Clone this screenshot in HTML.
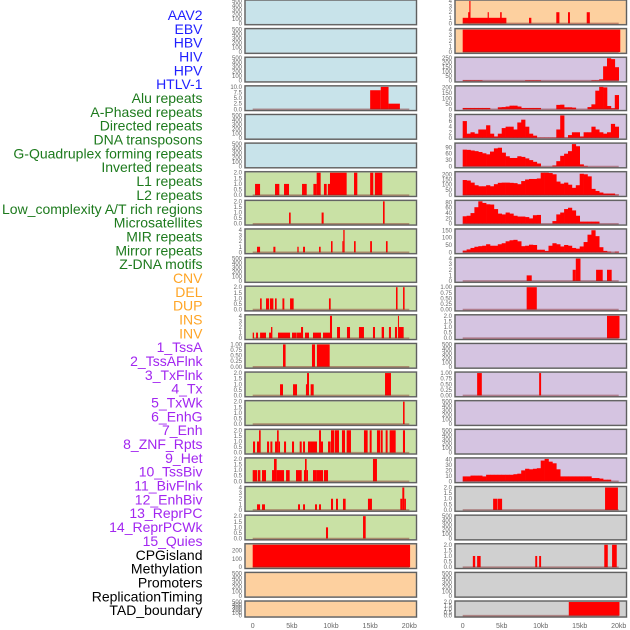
<!DOCTYPE html>
<html><head><meta charset="utf-8"><style>
html,body{margin:0;padding:0;background:#fff;width:630px;height:630px;overflow:hidden}
svg{display:block}
</style></head><body>
<svg id="chart" width="630" height="630" viewBox="0 0 630 630" xmlns="http://www.w3.org/2000/svg" font-family="Liberation Sans, sans-serif"></svg>
<script>
// ---- data ----
const labelNames = ["AAV2","EBV","HBV","HIV","HPV","HTLV-1","Alu repeats","A-Phased repeats","Directed repeats","DNA transposons","G-Quadruplex forming repeats","Inverted repeats","L1 repeats","L2 repeats","Low_complexity A/T rich regions","Microsatellites","MIR repeats","Mirror repeats","Z-DNA motifs","CNV","DEL","DUP","INS","INV","1_TssA","2_TssAFlnk","3_TxFlnk","4_Tx","5_TxWk","6_EnhG","7_Enh","8_ZNF_Rpts","9_Het","10_TssBiv","11_BivFlnk","12_EnhBiv","13_ReprPC","14_ReprPCWk","15_Quies","CPGisland","Methylation","Promoters","ReplicationTiming","TAD_boundary"];
const labelGroups = [6,13,5,15,5];
const groupColors = ["#1f1fff","#1d7a1d","#ffa526","#a226f0","#000000"];
const xTicks = [0,5,10,15,20];
const xTickLabels = ["0","5kb","10kb","15kb","20kb"];

const leftBg = ["b","b","b","b","b","b","g","g","g","g","g","g","g","g","g","g","g","g","g","p","p","p"];
const rightBg = ["p","p","v","v","v","v","v","v","v","v","v","v","v","v","v","v","v","r","r","r","r","r"];

const EMPTY = ["0","100","200","300","400","500"];
const T1 = ["0.00","0.25","0.50","0.75","1.00"];
const T2 = ["0.0","0.5","1.0","1.5","2.0"];
const T4 = ["0","1","2","3","4"];
const leftTicks = [EMPTY,EMPTY,EMPTY,["0.0","2.5","5.0","7.5","10.0"],EMPTY,EMPTY,T2,T2,T4,EMPTY,T2,T4,T1,T2,T2,T2,T2,T4,T2,["0","100","200"],EMPTY,EMPTY];
const leftMax = [500,500,500,10,500,500,2,2,4,500,2,4,1,2,2,2,2,4,2,270,500,500];
const rightTicks = [T4,T4,["0","50","100","150","200","250"],["0","50","100","150","200"],["0","2","4","6","8"],["0","30","60","90"],["0","50","100","150","200"],["0","20","40","60","80"],["0","50","100","150"],T4,T1,T2,EMPTY,T1,EMPTY,EMPTY,["0","10","20","30","40"],T2,EMPTY,T2,EMPTY,T2];
const rightMax = [4,4,250,205,8,105,215,84,152,4,1,2,500,1,500,500,41,2,500,2,500,2];

// sparse segments [startKb, endKb, value]
const leftSegments = [
 null,null,null,
 [[15,16.35,8.5],[16.35,17.35,10],[17.35,18.8,2.5]],
 null,null,
 [[0.3,0.94,1],[2.85,3.4,1],[4.0,4.64,1],[6.3,6.9,1],[7.75,8.17,1],[8.17,8.68,2],[9.1,9.45,1],[9.6,9.87,1],[9.87,12.0,2],[12.94,13.36,2],[15,15.4,2],[15.6,16.55,2]],
 [[4.64,4.85,1],[8.8,9.06,1],[16.64,16.85,2]],
 [[0.55,0.94,1],[2.64,2.9,1],[5.7,5.87,1],[6.43,6.68,1],[8.47,8.68,1],[10,10.2,2],[11.45,11.57,2],[11.57,11.74,4],[12.94,13.15,2],[15,15.23,2],[17.02,17.23,2]],
 null,
 [[0.94,1.15,1],[1.7,2.09,1],[2.2,2.64,1],[2.85,3.06,1],[3.8,4.04,1],[4.77,5.23,1],[9.74,9.96,1],[18.3,18.5,2],[19.2,19.4,2]],
 [[0,0.17,1],[0.43,0.68,1],[0.94,1.7,1],[2.09,2.34,1],[2.34,2.51,2],[3.23,4.77,1],[5.02,5.62,1],[5.66,6.17,1],[6.17,6.43,2],[6.68,7.19,1],[7.7,8.72,1],[8.98,9.87,1],[9.87,10.13,4],[10.77,11.15,2],[12.04,12.43,2],[13.57,14.21,2],[15.36,15.62,2],[16.47,16.77,2],[17.4,17.66,2],[18.17,18.43,2],[18.68,19.28,2],[18.55,18.68,4]],
 [[3.87,4.2,1],[7.57,7.96,1],[8.2,9.83,1]],
 [[3.49,3.87,1],[5.15,5.66,1],[6.8,7.06,1],[6.94,7.19,2],[7.4,7.79,1],[16.9,17.66,2]],
 [[19.2,19.4,2]],
 [[0.04,0.3,1],[0.55,0.81,1],[0.81,1.02,2],[1.83,2.09,1],[2.26,2.51,1],[2.85,3.11,1],[3.11,3.32,2],[3.32,3.49,1],[4.0,4.26,1],[5.02,5.28,1],[6.0,6.26,1],[6.43,6.68,1],[7.06,7.32,1],[7.32,8.21,1],[8.47,8.72,2],[8.72,8.98,1],[9.62,9.96,1],[10.0,10.43,2],[10.51,11.02,2],[11.4,11.79,2],[12.0,12.55,2],[14.21,14.68,2],[14.94,15.19,2],[15.87,16.26,2],[16.34,16.6,2],[16.98,17.23,2],[17.49,18.26,2],[19.19,19.45,2]],
 [[0,0.55,1],[0.64,0.98,1],[1.19,1.7,1],[2.47,2.72,1],[2.72,3.06,2],[3.06,4.0,1],[4.26,4.72,1],[5.53,6.26,1],[6.55,6.68,1],[6.68,6.89,2],[6.89,7.06,1],[7.7,8.13,1],[8.13,8.98,1],[9.1,9.62,1],[15.36,15.87,2]],
 [[0.55,0.94,1],[1.19,1.57,1],[5.79,6.04,1],[6.43,6.68,1],[7.96,8.21,1],[8.47,8.72,1],[10.0,10.26,2],[10.64,10.89,2],[11.53,11.87,2],[14.72,15.23,2],[18.85,19.11,2],[19.11,19.36,4],[19.36,19.57,2]],
 [[9.36,9.62,1],[14.09,14.43,2]],
 [[0,20.1,270]],
 null,null
];
const rightSegments = [
 [[0,5.6,1],[0.7,0.9,2],[0.85,1.0,4],[3.2,3.35,2],[4.8,5.0,2],[8.5,8.8,1],[12.0,12.4,2],[13.5,13.75,2],[15.9,16.3,2]],
 [[0,20.2,4]],
 null,null,null,null,null,null,null,
 [[8.2,8.85,1],[14.1,14.5,2],[14.5,15.1,4],[17.1,17.95,2],[18.5,19.1,2]],
 [[8.2,9.5,1]],
 [[18.5,20.1,2]],
 null,
 [[1.85,2.45,1],[9.8,10.05,1]],
 null,null,null,
 [[3.9,4.45,1],[4.5,5.05,1],[18.25,19.9,2]],
 null,
 [[1.3,1.6,1],[1.85,2.3,1],[9.3,9.55,1],[9.8,10.05,1],[18.15,18.6,2],[19.15,19.75,2]],
 null,
 [[13.6,20.1,2]]
];
// binned profiles (0.5 kb bins, 40 bins)
const prof3 = [6,6,6,6,6,0,0,0,0,0,0,0,0,0,0,0,6,6,6,6,0,0,0,0,0,0,0,0,0,0,0,0,0,6,6,15,160,250,240,150];
const prof4 = [12,12,12,12,12,12,12,0,0,18,20,25,33,33,25,12,12,12,12,12,0,0,0,0,40,42,18,18,15,0,0,0,20,45,170,205,200,30,10,130];
const prof5 = [6,1.5,2,1.5,3,3,4.5,1.5,0.5,1.5,3.5,4,4,3,5.5,6.5,4,1.5,0.8,0.1,0.1,0.1,0.1,0.1,3,8,0.1,1,2,2,0.5,2,2,4,3,2,1.5,2,5,4];
const prof6 = [79,78,75,72,68,62,57,70,85,88,65,48,40,40,48,45,38,30,22,14,0,0,0,5,25,50,60,72,105,95,10,3,0,0,0,0,0,0,0,0];
const prof7 = [145,140,120,95,85,85,95,85,105,118,120,120,118,115,105,135,150,155,155,160,215,215,212,200,130,110,120,100,70,95,205,200,180,60,40,25,15,15,15,5];
const prof8 = [28,30,40,62,84,78,73,72,55,38,35,42,38,30,27,27,25,20,32,33,0,0,0,10,35,42,55,60,50,30,8,8,8,8,8,0,0,0,0,0];
const prof9 = [12,20,30,38,42,45,55,45,45,55,62,75,82,85,75,42,45,52,50,18,18,10,45,62,55,40,50,45,30,25,40,70,120,150,110,35,10,5,0,5];
const prof17 = [9,9,10.5,10.5,10.5,9,12,12,12,12,12,12,12,13,14,20,23,22,23,24,38,41,36,33,22,9,9,9,9,9,9,9,9,6,6,5,3,3,0,0];
const rightProfiles = [null,null,prof3,prof4,prof5,prof6,prof7,prof8,prof9,null,null,null,null,null,null,null,prof17,null,null,null,null,null];
const binWidthKb = 0.5;

// ---- drawing ----
const NS = "http://www.w3.org/2000/svg";
const svg = document.getElementById("chart");
const bgColors = {b:"#c8e3ea",g:"#c9e1a5",p:"#fdd09f",v:"#d5c4e1",r:"#d0d0d0"};
const ROW_PITCH = 28.62;
function rowTop(i){ return ROW_PITCH*i; }
function rowH(i){ return i===21 ? 16 : 24.7; }
const colX = [245,455], colW = 171.5;
const kb0 = [252.7,462.7], kbScale = [7.83,7.8];
function xPos(col,kb){ return kb0[col] + kb*kbScale[col]; }
function yPos(row,v,max){
  const y0 = rowTop(row)+rowH(row)-1.3, y1 = rowTop(row)+1;
  return y0 - (v/max)*(y0-y1);
}
function mk(tag, attrs){
  const e = document.createElementNS(NS, tag);
  for (const k in attrs) e.setAttribute(k, attrs[k]);
  return e;
}

// labels
let li = 0;
labelGroups.forEach((n,g)=>{
  for (let k=0;k<n;k++){
    const t = mk("text",{x:202.5,y:20+13.84*li,"text-anchor":"end","font-size":"14",fill:groupColors[g]});
    
    
    t.textContent = labelNames[li];
    svg.appendChild(t);
    li++;
  }
});

function drawPanel(col,row,bgKey,ticks,max,segs,prof){
  const g = mk("g",{});
  
  
  const top = rowTop(row), h = rowH(row);
  const bg = mk("rect",{x:colX[col],y:top,width:colW,height:h,fill:bgColors[bgKey],stroke:"#8a8a8a","stroke-width":"1.6"});
  
  
  g.appendChild(bg);
  // ticks
  ticks.forEach(lab=>{
    const v = parseFloat(lab);
    const t = mk("text",{x:colX[col]-3,y:yPos(row,v,max)+2,"text-anchor":"end","font-size":"6",fill:"#666"});
    
    
    t.textContent = lab;
    g.appendChild(t);
  });
  const hasData = segs || prof;
  const y0 = yPos(row,0,max);
  if (prof){
    prof.forEach((v,i)=>{
      if (v<=0) return;
      const x1 = xPos(col,i*binWidthKb), x2 = xPos(col,(i+1)*binWidthKb);
      const y = yPos(row,v,max);
      const r = mk("rect",{x:x1,y:y,width:x2-x1+0.3,height:y0-y,fill:"#ff0000"});
      
      
      g.appendChild(r);
    });
  }
  if (segs){
    segs.forEach(s=>{
      const x1 = xPos(col,s[0]), x2 = xPos(col,s[1]);
      const y = yPos(row,s[2],max);
      const r = mk("rect",{x:x1,y:y,width:Math.max(1,x2-x1),height:y0-y,fill:"#ff0000"});
      
      
      g.appendChild(r);
    });
  }
  if (hasData){
    const ln = mk("line",{x1:xPos(col,0),x2:xPos(col,20),y1:y0,y2:y0,stroke:"rgba(130,40,40,0.45)","stroke-width":"1.6"});
    
    
    g.appendChild(ln);
  }
  const border = mk("rect",{x:colX[col],y:top,width:colW,height:h,fill:"none",stroke:"#5a5a5a","stroke-width":"0.9"});
  
  
  g.appendChild(border);
  svg.appendChild(g);
}

for (let r=0;r<22;r++){
  drawPanel(0,r,leftBg[r],leftTicks[r],leftMax[r],leftSegments[r],null);
  drawPanel(1,r,rightBg[r],rightTicks[r],rightMax[r],rightSegments[r],rightProfiles[r]);
}

// x axes
[0,1].forEach(col=>{
  xTicks.forEach((v,i)=>{
    const t = mk("text",{x:xPos(col,v),y:628,"text-anchor":"middle","font-size":"7",fill:"#666"});
    
    
    t.textContent = xTickLabels[i];
    svg.appendChild(t);
  });
});
</script>
</body></html>
